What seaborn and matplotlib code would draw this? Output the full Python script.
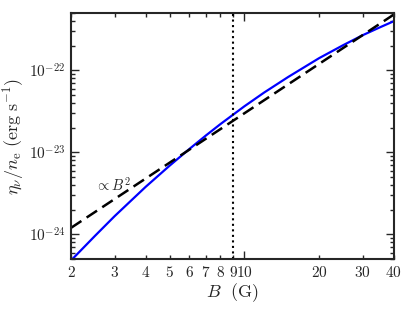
import numpy as np
import pandas as pd
import matplotlib
matplotlib.use('Agg')
import matplotlib.pyplot as plt
import seaborn as sns
from matplotlib.ticker import FixedLocator, FixedFormatter, LogLocator, NullFormatter

# Emissivity per electron
B_field = [2.0, 2.5, 3.0, 4.0, 5.0, 6.0, 7.0, 8.0, 9.0, 10.0, 12.0, 15.0, 20.0, 25.0, 30.0, 35.0, 40.0]
eta = [4.8e-25, 9.6e-25, 1.67e-24, 3.8e-24, 6.9e-24, 1.10e-23, 1.61e-23, 2.21e-23, 2.88e-23,
       3.65e-23, 5.36e-23, 8.3e-23, 1.41e-22, 2.03e-22, 2.69e-22, 3.33e-22, 3.98e-22]

# B^2 reference line
B_ref = [2.0, 40.0]
eta_ref = [1.2e-24, 4.8e-22]

B_mark = 9.0

xticks_major = [10]
xticks_minor = [2, 3, 4, 5, 6, 7, 8, 9, 20, 30, 40]
yticks = [1e-24, 1e-23, 1e-22]
ytick_labels = [r'$10^{-24}$', r'$10^{-23}$', r'$10^{-22}$']

sns.set_style('ticks')
plt.rcParams['mathtext.fontset'] = 'cm'
plt.rcParams['font.family'] = ['DejaVu Serif']
plt.rcParams['xtick.direction'] = 'in'
plt.rcParams['ytick.direction'] = 'in'

fig = plt.figure(figsize=(4.15, 3.11), dpi=100)
ax = fig.add_axes([0.171, 0.167, 0.778, 0.791])

df = pd.DataFrame({'B': B_field, 'eta': eta})
df_ref = pd.DataFrame({'B': B_ref, 'eta': eta_ref})

sns.lineplot(data=df, x='B', y='eta', color='#0000ff', lw=1.6, ax=ax)
sns.lineplot(data=df_ref, x='B', y='eta', color='black', lw=1.8, ax=ax)
ax.lines[-1].set_dashes([5, 2.5])
ax.axvline(B_mark, color='black', ls=':', lw=1.5)

ax.set_xscale('log')
ax.set_yscale('log')
ax.set_xlim(2, 40)
ax.set_ylim(5e-25, 5e-22)

ax.xaxis.set_major_locator(FixedLocator(xticks_major))
ax.xaxis.set_major_formatter(FixedFormatter([r'$%d$' % t for t in xticks_major]))
ax.xaxis.set_minor_locator(FixedLocator(xticks_minor))
ax.xaxis.set_minor_formatter(FixedFormatter([r'$%d$' % t for t in xticks_minor]))
ax.yaxis.set_major_locator(FixedLocator(yticks))
ax.yaxis.set_major_formatter(FixedFormatter(ytick_labels))
ax.yaxis.set_minor_locator(LogLocator(base=10, subs=np.arange(2, 10)))
ax.yaxis.set_minor_formatter(NullFormatter())

ax.tick_params(which='both', top=True, right=True, labelsize=11, width=1.0, pad=4)
ax.tick_params(which='major', length=6)
ax.tick_params(which='minor', length=3)
for s in ax.spines.values():
    s.set_linewidth(1.5)

ax.text(2.5, 4.0e-24, r'$\propto B^2$', fontsize=10.5, va='center')

ax.set_xlabel(r'$B\ \ (\mathrm{G})$', fontsize=13, labelpad=1)
ax.set_ylabel(r'$\eta_\nu/n_{\rm e}\ (\mathrm{erg\ s^{-1}})$', fontsize=13, labelpad=2)

plt.savefig('out.png', dpi=100)
